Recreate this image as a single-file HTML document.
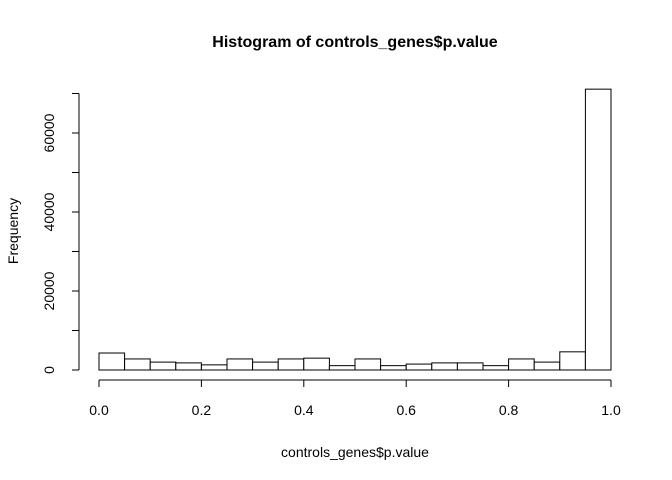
<!DOCTYPE html>
<html><head><meta charset="utf-8"><style>
body{margin:0;background:#fff}
svg{display:block;font-family:"Liberation Sans",Arial,sans-serif}
</style></head><body>
<svg id="chart" width="672" height="480" viewBox="0 0 672 480">
<text x="355" y="47" text-anchor="middle" font-size="16" font-weight="bold">Histogram of controls_genes$p.value</text>
<text x="355" y="457" text-anchor="middle" font-size="14">controls_genes$p.value</text>
<text x="18" y="231" text-anchor="middle" font-size="14" transform="rotate(-90 18 231)">Frequency</text>
<g id="bars"></g><g id="xaxis"></g><g id="yaxis"></g>
</svg>
<script>
const binEdges=[0,0.05,0.1,0.15,0.2,0.25,0.3,0.35,0.4,0.45,0.5,0.55,0.6,0.65,0.7,0.75,0.8,0.85,0.9,0.95,1.0];
const counts=[4300,2800,2000,1800,1300,2800,2000,2800,3000,1100,2800,1100,1500,1800,1800,1100,2800,2000,4600,71100];
const xTicks=[0,0.2,0.4,0.6,0.8,1.0];
const xTickLabels=["0.0","0.2","0.4","0.6","0.8","1.0"];
const yTicks=[0,10000,20000,30000,40000,50000,60000,70000];
const yTickLabels=["0","","20000","","40000","","60000",""];
const NS="http://www.w3.org/2000/svg";
const X=v=>99+v*512;
const Y=v=>370-v*(237/60000);
function mk(tag,attrs,parent){const e=document.createElementNS(NS,tag);for(const k in attrs)e.setAttribute(k,attrs[k]);parent.appendChild(e);return e;}
const bars=document.getElementById('bars');
counts.forEach((c,i)=>{
 const r=mk('rect',{x:X(binEdges[i]),y:Y(c),width:X(binEdges[i+1])-X(binEdges[i]),height:Y(0)-Y(c),fill:'#fff',stroke:'#000','stroke-width':1},bars);
 
 
});
const xa=document.getElementById('xaxis');


mk('line',{x1:X(0),x2:X(1),y1:380,y2:380,stroke:'#000'},xa);
xTicks.forEach((t,i)=>{
 mk('line',{x1:X(t),x2:X(t),y1:380,y2:387,stroke:'#000'},xa);
 const tx=mk('text',{x:X(t),y:415,'text-anchor':'middle','font-size':14},xa);
 tx.textContent=xTickLabels[i];
 
 
});
const ya=document.getElementById('yaxis');


mk('line',{x1:79,x2:79,y1:Y(0),y2:Y(70000),stroke:'#000'},ya);
yTicks.forEach((t,i)=>{
 mk('line',{x1:72,x2:79,y1:Y(t),y2:Y(t),stroke:'#000'},ya);
 if(yTickLabels[i]){
  const tx=mk('text',{x:54,y:Y(t),'text-anchor':'middle','font-size':14,transform:`rotate(-90 54 ${Y(t)})`},ya);
  tx.textContent=yTickLabels[i];
  
  
 }
});
</script>
</body></html>
